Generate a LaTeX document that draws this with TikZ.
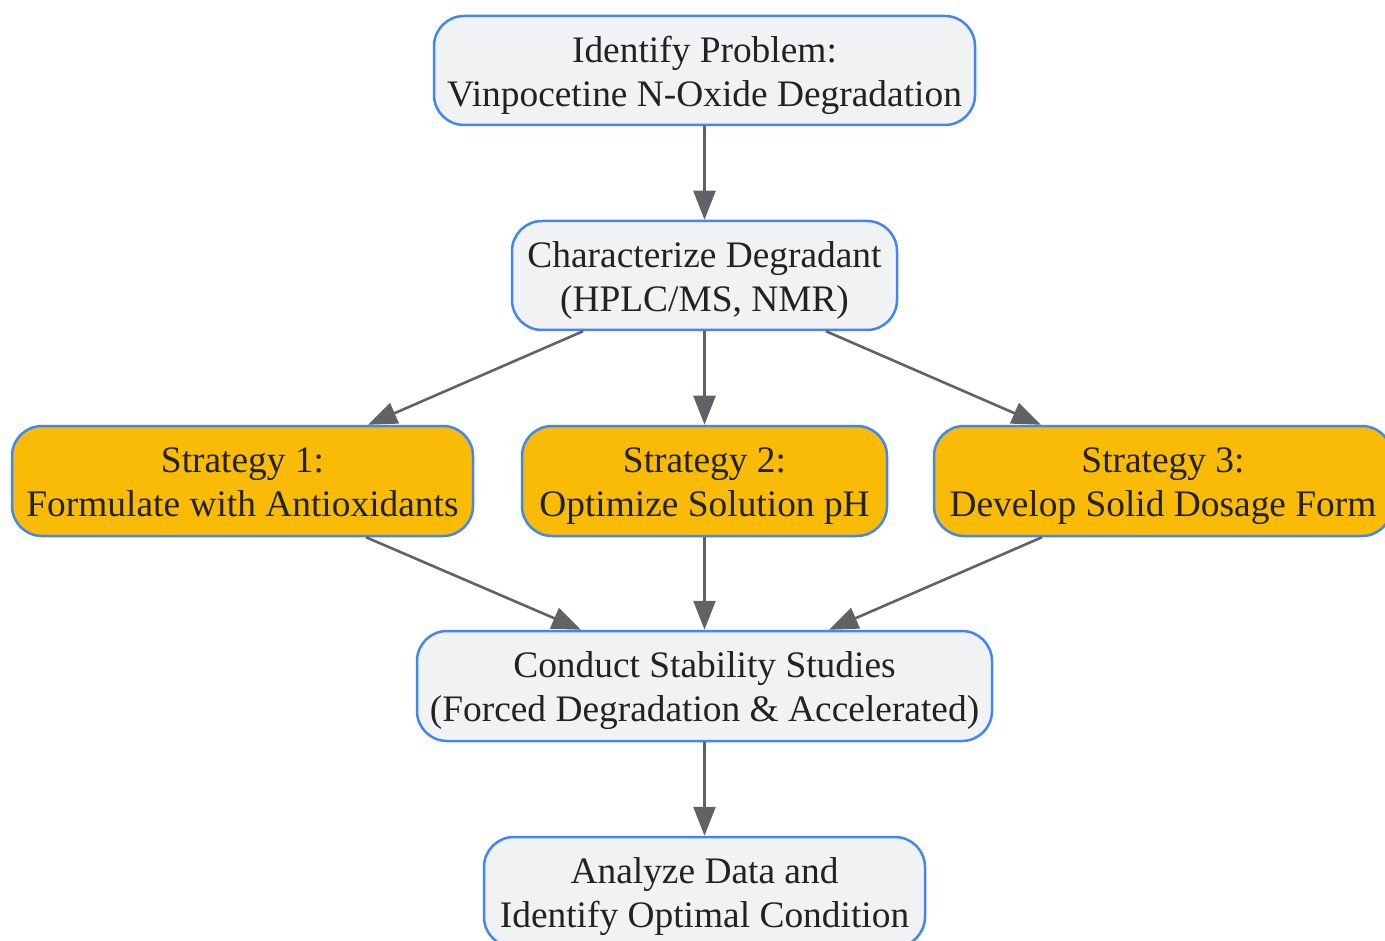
\documentclass[tikz,border=0pt]{standalone}
\usepackage{fontspec}
\setmainfont{Liberation Serif}
\usetikzlibrary{arrows.meta,calc}
\definecolor{nodeborder}{HTML}{4285F4}
\definecolor{nodefill}{HTML}{F1F2F4}
\definecolor{stratfill}{HTML}{F9BB06}
\definecolor{edgecol}{HTML}{5F6368}
\definecolor{txt}{HTML}{222222}
\newcommand{\lbl}[1]{\raisebox{-5pt}[\height][\depth]{\begin{tabular}{@{}c@{}}#1\end{tabular}}}
\begin{document}
\begin{tikzpicture}[x=1pt,y=-1pt,
  box/.style={draw=nodeborder, line width=2.5pt, rounded corners=30pt, fill=nodefill,
    text=txt, font=\fontsize{37.4}{44}\selectfont, inner sep=0pt},
  strat/.style={box, fill=stratfill},
  conn/.style={draw=edgecol, line width=2.6pt, -{Triangle[length=29pt,width=22pt]}}]
\useasboundingbox (0,0) rectangle (1385,941);
\node[box, minimum width=541pt, minimum height=109pt] (prob) at (704.5,70.5) {\lbl{Identify Problem:\\Vinpocetine N-Oxide Degradation}};
\node[box, minimum width=385pt, minimum height=109pt] (char) at (704.5,275.5) {\lbl{Characterize Degradant\\(HPLC/MS, NMR)}};
\node[strat, minimum width=461pt, minimum height=110pt] (s1) at (242.5,481) {\lbl{Strategy 1:\\Formulate with Antioxidants}};
\node[strat, minimum width=365pt, minimum height=110pt] (s2) at (704.5,481) {\lbl{Strategy 2:\\Optimize Solution pH}};
\node[strat, minimum width=458pt, minimum height=110pt] (s3) at (1163,481) {\lbl{Strategy 3:\\Develop Solid Dosage Form}};
\node[box, minimum width=575pt, minimum height=110pt] (stab) at (704.5,686) {\lbl{Conduct Stability Studies\\(Forced Degradation \& Accelerated)}};
\node[box, minimum width=441pt, minimum height=110pt] (ana) at (704.5,892) {\lbl{Analyze Data and\\Identify Optimal Condition}};
\draw[conn] (prob.south) -- (char.north);
\draw[conn] ([xshift=-121.5pt]char.south) -- ([xshift=125.5pt]s1.north);
\draw[conn] (char.south) -- (s2.north);
\draw[conn] ([xshift=121.5pt]char.south) -- ([xshift=-122pt]s3.north);
\draw[conn] ([xshift=123.5pt]s1.south) -- ([xshift=-123.5pt]stab.north);
\draw[conn] (s2.south) -- (stab.north);
\draw[conn] ([xshift=-121pt]s3.south) -- ([xshift=124.5pt]stab.north);
\draw[conn] (stab.south) -- (ana.north);
\end{tikzpicture}
\end{document}
